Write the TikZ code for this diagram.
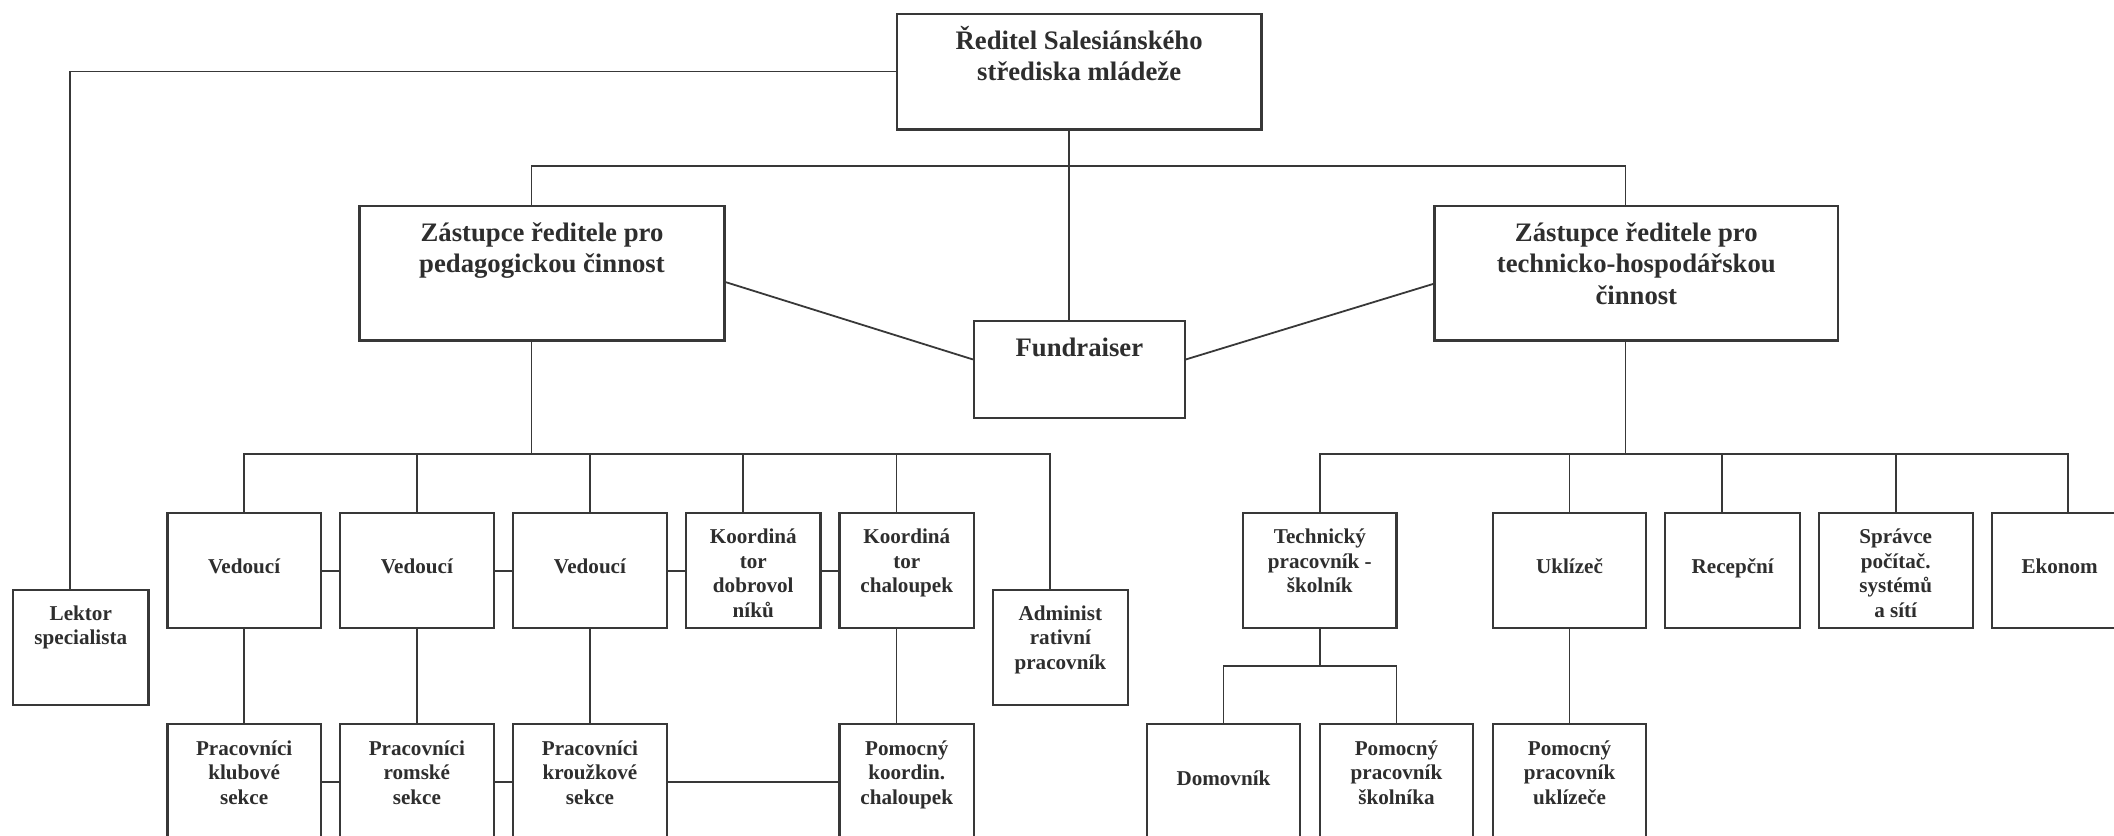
\documentclass[tikz,border=0pt]{standalone}
\usepackage{fontspec}
\setmainfont{Liberation Serif}

\definecolor{linec}{HTML}{383838}
\definecolor{textc}{HTML}{2E2E2E}
\def\upx{0.75pt}

\tikzset{
  orgbox/.style={draw=linec, line width=1.2pt, fill=white, rectangle,
    inner sep=0pt, anchor=north west},
  link/.style={draw=linec, line width=1pt},
  bigtxt/.style={text=textc, anchor=base, inner sep=0pt,
    font=\bfseries\fontsize{14.85}{17.6}\selectfont},
  smalltxt/.style={text=textc, anchor=base, inner sep=0pt,
    font=\bfseries\fontsize{11.75}{13.7}\selectfont},
}

% box: name, left, top, width, height
\newcommand\orgunit[5]{%
  \node[orgbox, minimum width=#4*\upx, minimum height=#5*\upx] (#1) at (#2,#3) {};}
% caption: style, box name, first baseline below the top edge, lines
\newcommand\orgcaption[4]{%
  \node[#1] at ([yshift=-#3*\upx]#2.north) {\begin{tabular}[t]{@{}c@{}}#4\end{tabular}};}

\begin{document}
\begin{tikzpicture}[x=0.75pt, y=-0.75pt]
\useasboundingbox (0,0) rectangle (1568,620);
\clip (0,0) rectangle (1568,620);

% ---- boxes ----
\orgunit{dir}{664.4}{9.4}{270.5}{85.8}
\orgunit{ped}{265.8}{151.8}{270.8}{99.9}
\orgunit{tech}{1063.2}{151.8}{299.4}{99.9}
\orgunit{fund}{721.6}{237.4}{156.4}{71.6}
\orgunit{lek}{9}{436.6}{100.3}{85.8}
\orgunit{adm}{735.7}{436.6}{100}{85.8}
\orgunit{v1}{123.4}{379.8}{113.8}{85.5}
\orgunit{v2}{251.2}{379.8}{114.4}{85.5}
\orgunit{v3}{379.6}{379.8}{114.4}{85.5}
\orgunit{kd}{508}{379.8}{99.8}{85.5}
\orgunit{kc}{621.9}{379.8}{99.7}{85.5}
\orgunit{p1}{123.4}{536.5}{113.8}{85.5}
\orgunit{p2}{251.2}{536.5}{114.4}{85.5}
\orgunit{p3}{379.6}{536.5}{114.4}{85.5}
\orgunit{pk}{621.9}{536.5}{99.7}{85.5}
\orgunit{tp}{921.3}{379.8}{113.7}{85.5}
\orgunit{ukl}{1106.5}{379.8}{113.7}{85.5}
\orgunit{rec}{1234.3}{379.8}{100.2}{85.5}
\orgunit{spr}{1348.1}{379.8}{114.3}{85.5}
\orgunit{eko}{1476.4}{379.8}{101}{85.5}
\orgunit{dom}{849.8}{536.5}{113.7}{85.5}
\orgunit{ps}{978.1}{536.5}{113.8}{85.5}
\orgunit{pu}{1106.5}{536.5}{113.7}{85.5}

% ---- captions ----
\orgcaption{bigtxt}{dir}{27}{Ředitel Salesiánského\\střediska mládeže}
\orgcaption{bigtxt}{ped}{27}{Zástupce ředitele pro\\pedagogickou činnost}
\orgcaption{bigtxt}{tech}{27}{Zástupce ředitele pro\\technicko-hospodářskou\\činnost}
\orgcaption{bigtxt}{fund}{27}{Fundraiser}
\orgcaption{smalltxt}{lek}{23.5}{Lektor\\specialista}
\orgcaption{smalltxt}{adm}{23.5}{Administ\\rativní\\pracovník}
\orgcaption{smalltxt}{v1}{45.8}{Vedoucí}
\orgcaption{smalltxt}{v2}{45.8}{Vedoucí}
\orgcaption{smalltxt}{v3}{45.8}{Vedoucí}
\orgcaption{smalltxt}{kd}{23.5}{Koordiná\\tor\\dobrovol\\níků}
\orgcaption{smalltxt}{kc}{23.5}{Koordiná\\tor\\chaloupek}
\orgcaption{smalltxt}{p1}{23.5}{Pracovníci\\klubové\\sekce}
\orgcaption{smalltxt}{p2}{23.5}{Pracovníci\\romské\\sekce}
\orgcaption{smalltxt}{p3}{23.5}{Pracovníci\\kroužkové\\sekce}
\orgcaption{smalltxt}{pk}{23.5}{Pomocný\\koordin.\\chaloupek}
\orgcaption{smalltxt}{tp}{23.5}{Technický\\pracovník -\\školník}
\orgcaption{smalltxt}{ukl}{45.8}{Uklízeč}
\orgcaption{smalltxt}{rec}{45.8}{Recepční}
\orgcaption{smalltxt}{spr}{23.5}{Správce\\počítač.\\systémů\\a sítí}
\orgcaption{smalltxt}{eko}{45.8}{Ekonom}
\orgcaption{smalltxt}{dom}{45.8}{Domovník}
\orgcaption{smalltxt}{ps}{23.5}{Pomocný\\pracovník\\školníka}
\orgcaption{smalltxt}{pu}{23.5}{Pomocný\\pracovník\\uklízeče}

% ---- guide coordinates for the connector runs ----
\coordinate (lekIn) at (52.2,436.6);
\coordinate (cx)   at (793.1,0);
\coordinate (dbar) at (0,123.1);
\coordinate (pedX) at (394.2,0);
\coordinate (techX) at (1205.6,0);
\coordinate (pbar) at (0,336.8);
\coordinate (kdX)  at (551.1,0);
\coordinate (kcX)  at (665,0);
\coordinate (admX) at (778.8,0);
\coordinate (recX) at (1277.1,0);
\coordinate (ekoX) at (1533.8,0);
\coordinate (sbar) at (0,494);

% ---- connectors ----
% director
\draw[link] (dir.west) -| (lekIn);
\draw[link] (cx |- dir.south) -- (cx |- fund.north);
\draw[link] (pedX |- ped.north) -- (pedX |- dbar) -- (techX |- dbar) -- (techX |- tech.north);
\draw[link] ([yshift=-6.7*\upx]ped.east) -- ([yshift=7.4*\upx]fund.west);
\draw[link] ([yshift=-8*\upx]tech.west) -- ([yshift=7.4*\upx]fund.east);

% pedagogical branch
\draw[link] (pedX |- ped.south) -- (pedX |- pbar);
\draw[link] (v1.north) -- (v1.north |- pbar) -- (admX |- pbar) -- (admX |- adm.north);
\draw[link] (v2.north) -- (v2.north |- pbar);
\draw[link] (v3.north) -- (v3.north |- pbar);
\draw[link] (kdX |- kd.north) -- (kdX |- pbar);
\draw[link] (kcX |- kc.north) -- (kcX |- pbar);
\draw[link] (v1.east) -- (v2.west);
\draw[link] (v2.east) -- (v3.west);
\draw[link] (v3.east) -- (kd.west);
\draw[link] (kd.east) -- (kc.west);
\draw[link] (v1.south) -- (p1.north);
\draw[link] (v2.south) -- (p2.north);
\draw[link] (v3.south) -- (p3.north);
\draw[link] (kcX |- kc.south) -- (kcX |- pk.north);
\draw[link] (p1.east) -- (p2.west);
\draw[link] (p2.east) -- (p3.west);
\draw[link] (p3.east) -- (pk.west);

% technical branch
\draw[link] (techX |- tech.south) -- (techX |- pbar);
\draw[link] (tp.north) -- (tp.north |- pbar) -- (ekoX |- pbar) -- (ekoX |- eko.north);
\draw[link] (ukl.north) -- (ukl.north |- pbar);
\draw[link] (recX |- rec.north) -- (recX |- pbar);
\draw[link] (spr.north) -- (spr.north |- pbar);
\draw[link] (tp.south) -- (tp.south |- sbar);
\draw[link] (dom.north) -- (dom.north |- sbar) -- (ps.north |- sbar) -- (ps.north);
\draw[link] (ukl.south) -- (pu.north);
\end{tikzpicture}
\end{document}
